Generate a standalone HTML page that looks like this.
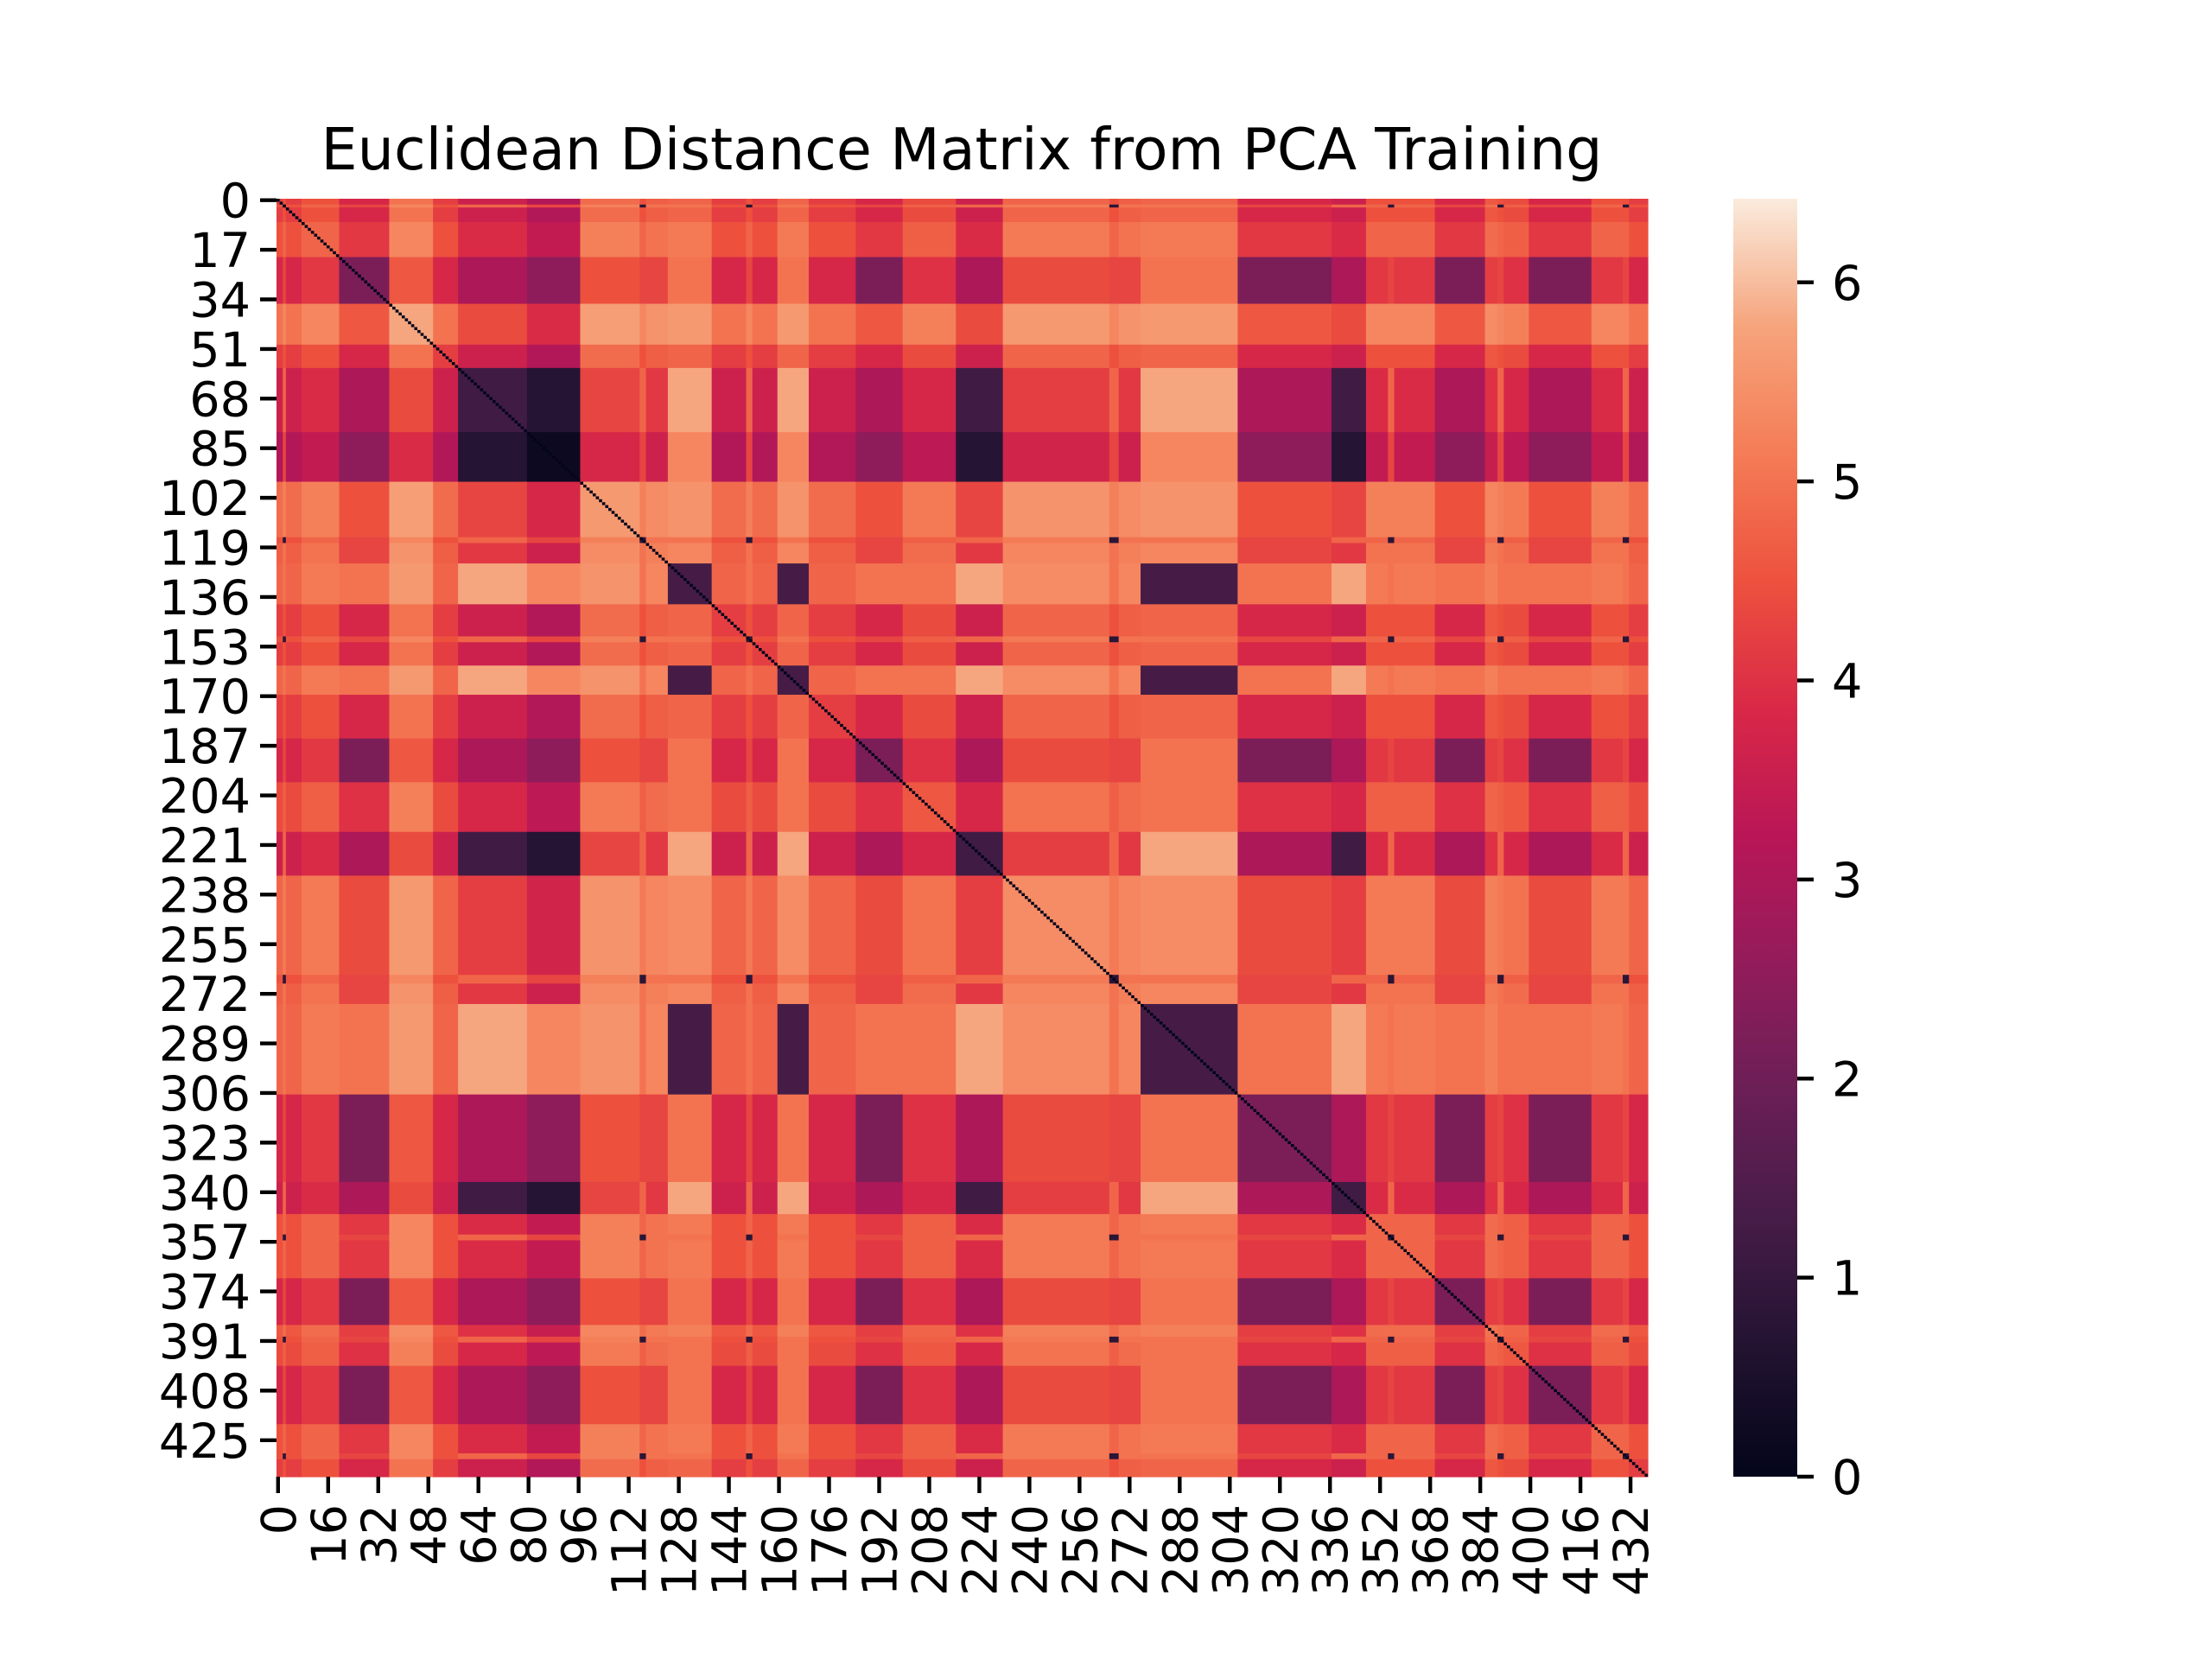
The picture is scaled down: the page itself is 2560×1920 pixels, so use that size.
<!DOCTYPE html>
<html><head><meta charset="utf-8">
<style>
html,body{margin:0;padding:0;background:#fff;}
svg{display:block;font-family:"DejaVu Sans","Liberation Sans",sans-serif;}
</style></head>
<body>
<svg id="chart" width="2560" height="1920" viewBox="0 0 2560 1920" xmlns="http://www.w3.org/2000/svg">
<rect width="2560" height="1920" fill="#fff"/>
<text x="1113" y="196" font-size="66.7" text-anchor="middle">Euclidean Distance Matrix from PCA Training</text>
<g id="cells"></g>
<g id="diag"></g>
<g id="yaxis"></g>
<g id="xaxis"></g>
<defs><linearGradient id="cbgrad" x1="0" y1="1" x2="0" y2="0"></linearGradient></defs>
<rect x="2006" y="230" width="74" height="1479" fill="url(#cbgrad)"/>
<g id="cbaxis"></g>
</svg>
<script>
// ---- data (block-level) ----
const N = 438;
const segStarts = [0,2,3,8,20,36,50,58,80,97,116,118,125,139,150,152,160,170,185,200,217,232,266,269,276,307,337,348,355,357,370,386,390,392,400,420,430,432];
const segTypes  = ['M','C','M','M','P','M','M','A','A','M','C','M','B','M','C','M','B','M','P','M','A','M','C','M','B','P','A','M','C','M','P','M','C','M','P','M','C','M'];
const segOffsets= [0,0,0,0.3,0,0.8,0,0,-0.5,0.7,0,0.5,0,0,0,0,0,0,0,0.2,0,0.6,0,0.5,0,0,0,0.3,0,0.3,0,0.4,0,0.2,0,0.3,0,0];
const typeNames = ['A','B','P','M','C'];
const typeDist = [
  [1.2,5.8,3.0,3.6,4.8],
  [5.8,1.3,5.0,4.8,5.0],
  [3.0,5.0,2.2,3.8,4.3],
  [3.6,4.8,3.8,4.2,4.5],
  [4.8,5.0,4.3,4.5,0.8]];
const yTicks = [0,17,34,51,68,85,102,119,136,153,170,187,204,221,238,255,272,289,306,323,340,357,374,391,408,425];
const xTicks = [0,16,32,48,64,80,96,112,128,144,160,176,192,208,224,240,256,272,288,304,320,336,352,368,384,400,416,432];
const cbTicks = [0,1,2,3,4,5,6];
const vmax = 6.42;

// ---- geometry ----
const L=320,R=1907,T=230,B=1709;
const cw=(R-L)/N, ch=(B-T)/N;
const xs=i=>L+i*cw, ys=i=>T+i*ch;
const cbY=v=>B-(v/vmax)*(B-T);
const NS='http://www.w3.org/2000/svg';
const stops=[[0,'#03051a'],[0.1,'#221331'],[0.2,'#451c47'],[0.3,'#6a1f56'],[0.4,'#921c5b'],[0.5,'#b91657'],[0.6,'#d92847'],[0.7,'#ed513e'],[0.8,'#f47c56'],[0.9,'#f6a47c'],[1,'#faebdd']];
function hex(h){return [1,3,5].map(k=>parseInt(h.substr(k,2),16));}
function cmap(v){
  let t=Math.max(0,Math.min(1,v/vmax));
  for(let k=1;k<stops.length;k++){
    if(t<=stops[k][0]){
      const a=hex(stops[k-1][1]),b=hex(stops[k][1]);
      const f=(t-stops[k-1][0])/(stops[k][0]-stops[k-1][0]);
      return 'rgb('+a.map((c,q)=>Math.round(c+(b[q]-c)*f)).join(',')+')';
    }
  }
  return stops[stops.length-1][1];
}
function mk(tag,attrs,parent){const e=document.createElementNS(NS,tag);for(const k in attrs)e.setAttribute(k,attrs[k]);parent.appendChild(e);return e;}

const cells=document.getElementById('cells');
for(let a=0;a<segStarts.length;a++){
  const a0=segStarts[a],a1=a+1<segStarts.length?segStarts[a+1]:N;
  for(let b=0;b<segStarts.length;b++){
    const b0=segStarts[b],b1=b+1<segStarts.length?segStarts[b+1]:N;
    const ta=typeNames.indexOf(segTypes[a]),tb=typeNames.indexOf(segTypes[b]);
    const v=typeDist[ta][tb]+segOffsets[a]+segOffsets[b];
    const r=mk('rect',{x:xs(b0).toFixed(2),y:ys(a0).toFixed(2),width:(xs(b1)-xs(b0)+0.6).toFixed(2),height:(ys(a1)-ys(a0)+0.6).toFixed(2),fill:cmap(v)},cells);
    
    
  }
}
const diag=document.getElementById('diag');
for(let i=0;i<N;i++){
  const r=mk('rect',{x:xs(i).toFixed(2),y:ys(i).toFixed(2),width:cw.toFixed(2),height:ch.toFixed(2),fill:cmap(0)},diag);
  
  
}
const ya=document.getElementById('yaxis');
yTicks.forEach(t=>{
  const y=ys(t+0.5);
  const l=mk('line',{x1:L-19,x2:L,y1:y,y2:y,stroke:'#000','stroke-width':4.4},ya);
  
  
  const tx=mk('text',{x:L-30,y:y+20,'font-size':55.6,'text-anchor':'end'},ya);
  
  
  tx.textContent=t;
});
const xa=document.getElementById('xaxis');
xTicks.forEach(t=>{
  const x=xs(t+0.5);
  const l=mk('line',{x1:x,x2:x,y1:B,y2:B+19,stroke:'#000','stroke-width':4.4},xa);
  
  
  const tx=mk('text',{x:0,y:0,'font-size':55.6,'text-anchor':'end',transform:'translate('+(x+20)+','+(B+32)+') rotate(-90)'},xa);
  
  
  tx.textContent=t;
});
const g=document.getElementById('cbgrad');
stops.forEach(s=>{mk('stop',{offset:s[0],'stop-color':s[1]},g);});
const cba=document.getElementById('cbaxis');
cbTicks.forEach(v=>{
  const y=cbY(v);
  const l=mk('line',{x1:2080,x2:2099,y1:y,y2:y,stroke:'#000','stroke-width':4.4},cba);
  
  
  const tx=mk('text',{x:2120,y:y+20,'font-size':55.6},cba);
  
  
  tx.textContent=v;
});
</script>
</body></html>
